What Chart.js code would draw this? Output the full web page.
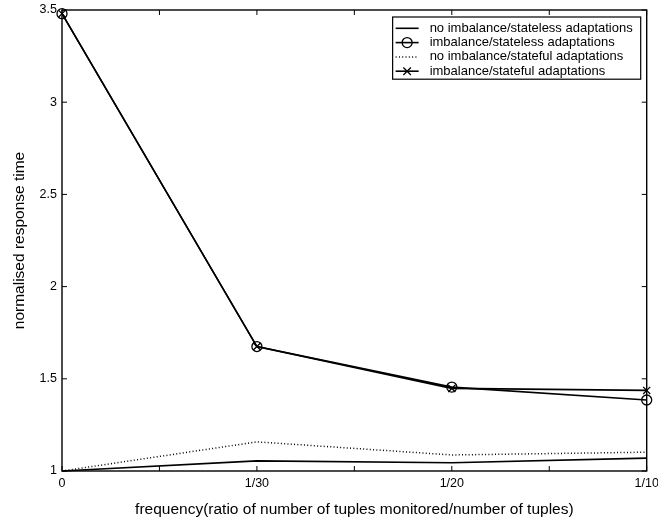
<!DOCTYPE html>
<html>
<head>
<meta charset="utf-8">
<script src="https://cdn.jsdelivr.net/npm/chart.js@4/dist/chart.umd.min.js"></script>
<style>
  html, body { margin: 0; padding: 0; background: #fff; }
  canvas { display: block; }
</style>
</head>
<body>
<canvas id="c" width="658" height="523"></canvas>
<script>
// Category positions along the x axis (blank entries are minor tick positions)
const categories = ['0', '', '1/30', '', '1/20', '', '1/10'];

// Series values (null = no measurement at that minor position)
const noImbalanceStateless = [1.00, null, 1.055, null, 1.045, null, 1.070];
const imbalanceStateless   = [3.48, null, 1.675, null, 1.455, null, 1.385];
const noImbalanceStateful  = [1.00, null, 1.158, null, 1.087, null, 1.102];
const imbalanceStateful    = [3.48, null, 1.675, null, 1.448, null, 1.437];

const seriesNames = [
  'no imbalance/stateless adaptations',
  'imbalance/stateless adaptations',
  'no imbalance/stateful adaptations',
  'imbalance/stateful adaptations'
];

const yTickLabels = ['1', '1.5', '2', '2.5', '3', '3.5'];
const xTitle = 'frequency(ratio of number of tuples monitored/number of tuples)';
const yTitle = 'normalised response time';
const yMin = 1, yMax = 3.5, yStep = 0.5;

const FONT = 'Liberation Sans, Arial, Helvetica, sans-serif';

const boxPlugin = {
  id: 'boxPlugin',
  afterDraw(chart) {
    const ctx = chart.ctx;
    const ca = chart.chartArea;
    const xs = chart.scales.x, ys = chart.scales.y;
    ctx.save();
    ctx.strokeStyle = '#000';
    ctx.lineWidth = 1.4;
    ctx.strokeRect(ca.left, ca.top, ca.right - ca.left, ca.bottom - ca.top);
    const tl = 5;
    ctx.lineWidth = 1;
    ctx.beginPath();
    xs.ticks.forEach((t, i) => {
      const x = xs.getPixelForTick(i);
      ctx.moveTo(x, ca.bottom); ctx.lineTo(x, ca.bottom - tl);
      ctx.moveTo(x, ca.top); ctx.lineTo(x, ca.top + tl);
    });
    ys.ticks.forEach((t, i) => {
      const y = ys.getPixelForTick(i);
      ctx.moveTo(ca.left, y); ctx.lineTo(ca.left + tl, y);
      ctx.moveTo(ca.right, y); ctx.lineTo(ca.right - tl, y);
    });
    ctx.stroke();

    // Legend box
    ctx.font = '13px ' + FONT;
    const dsets = chart.data.datasets;
    let maxW = 0;
    dsets.forEach(d => { maxW = Math.max(maxW, ctx.measureText(d.label).width); });
    const rowH = 14.3;
    const textOff = 37;
    const boxW = textOff + maxW + 8;
    const boxH = rowH * dsets.length + 5;
    const bx = ca.right - 6 - boxW;
    const by = ca.top + 7;
    ctx.fillStyle = '#fff';
    ctx.fillRect(bx, by, boxW, boxH);
    ctx.lineWidth = 1.2;
    ctx.strokeRect(bx, by, boxW, boxH);
    dsets.forEach((d, i) => {
      const cy = by + 11.3 + i * rowH;
      ctx.save();
      ctx.lineWidth = d.borderWidth;
      ctx.strokeStyle = '#000';
      ctx.setLineDash(d.borderDash || []);
      ctx.beginPath();
      ctx.moveTo(bx + 3, cy); ctx.lineTo(bx + 26, cy);
      ctx.stroke();
      ctx.setLineDash([]);
      ctx.lineWidth = d.pointBorderWidth;
      const mx = bx + 14.5;
      if (d.pointStyle === 'circle' && d.pointRadius > 0) {
        ctx.beginPath();
        ctx.arc(mx, cy, d.pointRadius, 0, Math.PI * 2);
        ctx.stroke();
      } else if (d.pointStyle === 'crossRot' && d.pointRadius > 0) {
        const r = d.pointRadius * 0.75;
        ctx.beginPath();
        ctx.moveTo(mx - r, cy - r); ctx.lineTo(mx + r, cy + r);
        ctx.moveTo(mx - r, cy + r); ctx.lineTo(mx + r, cy - r);
        ctx.stroke();
      }
      ctx.restore();
      ctx.fillStyle = '#000';
      ctx.textBaseline = 'middle';
      ctx.textAlign = 'left';
      ctx.fillText(d.label, bx + textOff, cy);
    });
    ctx.restore();
  }
};

const base = {
  borderColor: '#000',
  backgroundColor: 'rgba(0,0,0,0)',
  pointBorderColor: '#000',
  pointBackgroundColor: 'rgba(0,0,0,0)',
  borderWidth: 1.6,
  pointBorderWidth: 1.3,
  spanGaps: true,
  tension: 0,
  clip: false,
  fill: false
};

new Chart(document.getElementById('c'), {
  type: 'line',
  data: {
    labels: categories,
    datasets: [
      Object.assign({}, base, { label: seriesNames[0], data: noImbalanceStateless, pointRadius: 0, pointStyle: 'line' }),
      Object.assign({}, base, { label: seriesNames[1], data: imbalanceStateless, pointRadius: 5, pointStyle: 'circle' }),
      Object.assign({}, base, { label: seriesNames[2], data: noImbalanceStateful, pointRadius: 0, pointStyle: 'line', borderWidth: 1.5, borderDash: [1, 2.3] }),
      Object.assign({}, base, { label: seriesNames[3], data: imbalanceStateful, pointRadius: 5, pointStyle: 'crossRot' })
    ]
  },
  options: {
    responsive: false,
    animation: false,
    events: [],
    layout: { padding: { top: 10, right: 11.3, left: 0, bottom: 0 } },
    plugins: { legend: { display: false }, tooltip: { enabled: false } },
    scales: {
      x: {
        type: 'category',
        offset: false,
        grid: { display: false, drawTicks: false },
        border: { display: false },
        ticks: { autoSkip: false, maxRotation: 0, minRotation: 0, padding: 5, color: '#000', font: { family: FONT, size: 12.5 } },
        title: { display: true, text: xTitle, color: '#000', font: { family: FONT, size: 15.5 }, padding: { top: 0, bottom: 4 } },
        afterFit: s => { s.height = 52; s.paddingLeft = 0; s.paddingRight = 0; }
      },
      y: {
        type: 'linear',
        min: yMin, max: yMax,
        grid: { display: false, drawTicks: false },
        border: { display: false },
        ticks: {
          stepSize: yStep, padding: 5, color: '#000', font: { family: FONT, size: 12.5 },
          callback: (v, i) => yTickLabels[i]
        },
        title: { display: true, text: yTitle, color: '#000', font: { family: FONT, size: 15.5 }, padding: { top: 10, bottom: 0 } },
        afterFit: s => { s.width = 62; s.paddingTop = 0; s.paddingBottom = 0; }
      }
    }
  },
  plugins: [boxPlugin]
});
</script>
</body>
</html>
